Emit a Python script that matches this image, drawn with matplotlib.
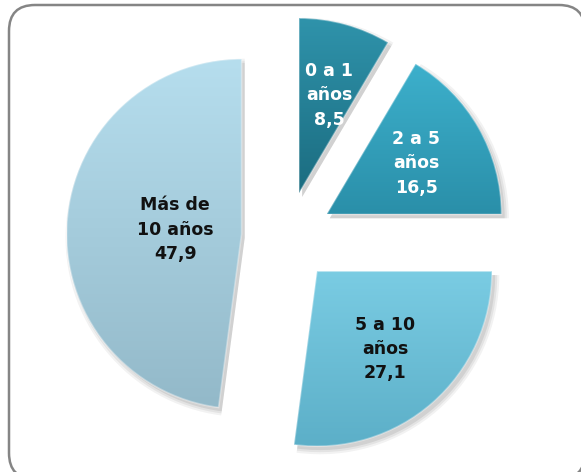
import matplotlib
matplotlib.use("Agg")
import matplotlib.pyplot as plt
import numpy as np
from matplotlib.patches import FancyBboxPatch, Wedge
from matplotlib.colors import LinearSegmentedColormap

# antigüedad (años) - porcentajes
categorias = ["0 a 1\naños", "2 a 5\naños", "5 a 10\naños", "Más de\n10 años"]
valores = [8.5, 16.5, 27.1, 47.9]

# gradiente de cada porción (arriba, abajo)
colores_arriba = ["#2F93AB", "#3DB0CC", "#7ACCE3", "#B6DEEE"]
colores_abajo = ["#1B6C80", "#2A8FA9", "#5CAFC8", "#93B9C9"]
color_texto = ["white", "white", "#111111", "#111111"]
dist_texto = [0.58, 0.59, 0.59, 0.38]

fig = plt.figure(figsize=(5.81, 4.72), dpi=100)

# marco redondeado (en pixeles)
bg = fig.add_axes([0, 0, 1, 1])
bg.set_xlim(0, 581)
bg.set_ylim(472, 0)
bg.axis("off")
bg.add_patch(FancyBboxPatch((9, 5), 576, 474, boxstyle="round,pad=0,rounding_size=26",
                            facecolor="white", edgecolor="#858585", linewidth=1.8))

ax = fig.add_axes([0, 0, 1, 1])
ax.axis("off")

wedges, _ = ax.pie(valores, startangle=90, counterclock=False, radius=1,
                   explode=[0.26] * 4, wedgeprops=dict(linewidth=0, facecolor="none"))

grad = np.linspace(0, 1, 256)[:, None]
for i, w in enumerate(wedges):
    cx, cy = w.center
    # sombra suave
    for k, a in enumerate([0.05, 0.06, 0.08]):
        sh = Wedge((cx + 0.018, cy - 0.022), 1 + 0.012 * (2 - k), w.theta1, w.theta2,
                   facecolor="black", alpha=a, linewidth=0, zorder=1)
        ax.add_patch(sh)
    x0, y0, x1, y1 = w.get_path().get_extents().extents
    cmap = LinearSegmentedColormap.from_list("g%d" % i, [colores_abajo[i], colores_arriba[i]])
    im = ax.imshow(grad, extent=[x0, x1, y0, y1], origin="lower", cmap=cmap,
                   aspect="auto", zorder=2, interpolation="bilinear")
    im.set_clip_path(w)
    # borde biselado claro
    ax.add_patch(Wedge((cx, cy), 1, w.theta1, w.theta2, facecolor="none",
                       edgecolor="white", alpha=0.35, linewidth=1.2, zorder=3))

    tm = np.deg2rad((w.theta1 + w.theta2) / 2)
    ax.text(cx + dist_texto[i] * np.cos(tm) + (0.02 if i == 0 else 0),
            cy + dist_texto[i] * np.sin(tm),
            categorias[i] + "\n" + ("%.1f" % valores[i]).replace(".", ","),
            ha="center", va="center", fontsize=12.5, fontweight="bold",
            color=color_texto[i], linespacing=1.45, zorder=4)

# escala: 175 px por unidad, centro en (287, 237)
ax.set_xlim(-287 / 175, (581 - 287) / 175)
ax.set_ylim(-(472 - 237) / 175, 237 / 175)
ax.set_aspect("auto")

fig.savefig("out.png", dpi=100)
